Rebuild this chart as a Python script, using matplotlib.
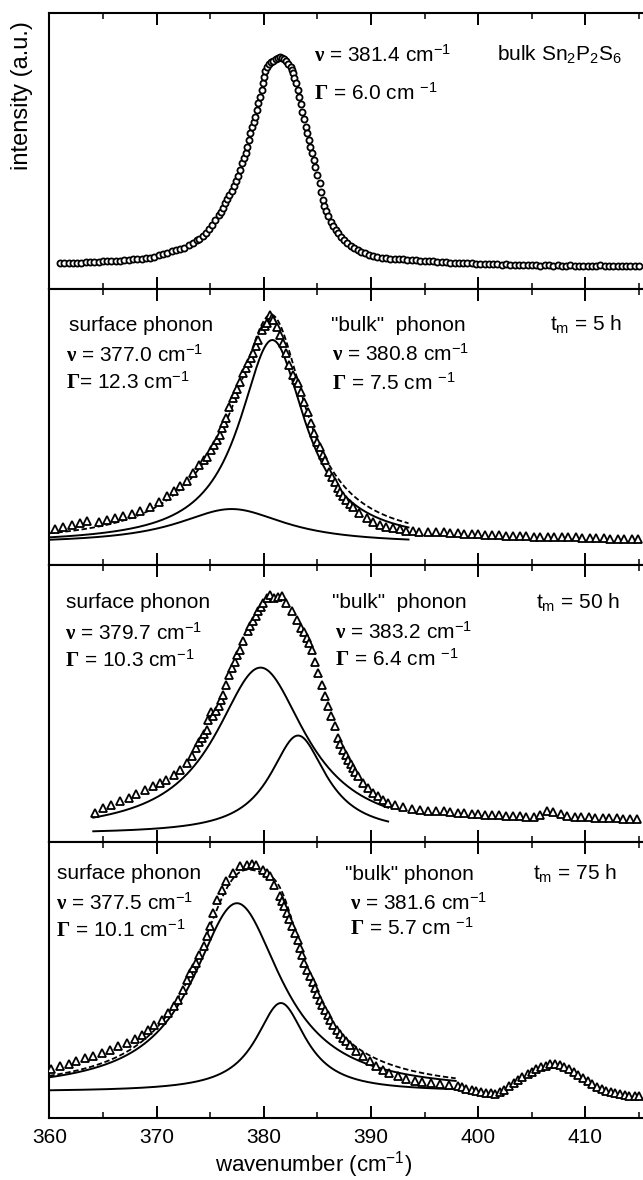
import numpy as np
import matplotlib
matplotlib.use("Agg")
import matplotlib.pyplot as plt
from matplotlib.ticker import MultipleLocator

plt.rcParams['font.family'] = ['Liberation Sans', 'DejaVu Sans']
plt.rcParams['mathtext.fontset'] = 'custom'
plt.rcParams['mathtext.rm'] = 'Liberation Sans'
plt.rcParams['mathtext.it'] = 'Liberation Sans:italic'
plt.rcParams['mathtext.bf'] = 'Liberation Serif:bold'

# bulk crystal spectrum (normalised intensity)
bulk_x = [361.0, 361.4, 361.8, 362.2, 362.6, 363.0, 363.4, 363.8, 364.2, 364.6, 365.0, 365.4,
          365.8, 366.2, 366.6, 367.0, 367.4, 367.8, 368.2, 368.6, 369.0, 369.4, 369.8, 370.2,
          370.6, 371.0, 371.4, 371.8, 372.2, 372.6, 373.0, 373.4, 373.8,
          374.0, 374.3, 374.6, 374.9, 375.2, 375.5, 375.8, 376.0, 376.2, 376.4, 376.6, 376.8,
          377.0, 377.2, 377.4, 377.6, 377.8, 378.0, 378.15, 378.3, 378.45, 378.6, 378.75, 378.9,
          379.05, 379.2, 379.35, 379.5, 379.65, 379.8, 379.9, 380.0, 380.15, 380.3, 380.5, 380.7,
          380.9, 381.1, 381.3, 381.5, 381.7, 381.9, 382.1, 382.3, 382.5, 382.6, 382.7, 382.85,
          383.0, 383.15, 383.3, 383.45, 383.6, 383.75, 383.9, 384.05, 384.2, 384.35, 384.5, 384.65,
          384.8, 385.0, 385.2, 385.35, 385.5, 385.65, 385.8, 386.0, 386.3, 386.5, 386.7, 386.95,
          387.2, 387.5, 387.8, 388.1, 388.4, 388.75, 389.1, 389.45, 389.8, 390.2, 390.6, 391.0,
          391.4, 391.8, 392.2, 392.6, 393.0, 393.4, 393.8, 394.2, 394.6, 395.0, 395.4, 395.8,
          396.2, 396.6, 397.0, 397.4, 397.8, 398.2, 398.6, 399.0, 399.4, 399.8, 400.2, 400.6,
          401.0, 401.4, 401.8, 402.2, 402.6, 403.0, 403.4, 403.8, 404.2, 404.6, 405.0, 405.4,
          405.8, 406.2, 406.6, 407.0, 407.4, 407.8, 408.2, 408.6, 409.0, 409.4, 409.8, 410.2,
          410.6, 411.0, 411.4, 411.8, 412.2, 412.6, 413.0, 413.4, 413.8, 414.2, 414.6, 415.0]
bulk_y = [.094, .095, .096, .096, .097, .097, .098, .099, .099, .100, .101, .101,
          .102, .103, .104, .105, .106, .108, .110, .111, .112, .115, .118, .123,
          .127, .130, .137, .143, .146, .150, .160, .168, .177,
          .183, .192, .204, .218, .233, .250, .268, .280, .296, .311, .326, .340,
          .356, .374, .393, .410, .432, .456, .474, .493, .517, .541, .565, .589,
          .607, .625, .650, .674, .698, .722, .746, .770, .790, .807, .815, .822,
          .828, .833, .837, .840, .839, .834, .827, .818, .807, .795, .783, .765,
          .746, .722, .698, .671, .644, .616, .589, .565, .541, .517, .493, .468,
          .444, .414, .384, .354, .324, .302, .282, .265, .245, .230, .215, .203,
          .191, .178, .167, .157, .148, .142, .136, .130, .124, .121, .118, .115,
          .113, .111, .110, .109, .108, .107, .106, .105, .104, .103, .102, .101,
          .100, .099, .098, .097, .097, .096, .095, .095, .094, .093, .092, .092,
          .091, .092, .090, .089, .090, .088, .089, .088, .087, .089, .088, .087,
          .086, .087, .088, .086, .087, .085, .086, .087, .086, .085, .086, .085,
          .084, .086, .087, .085, .084, .085, .086, .084, .085, .084, .085, .084]

# spectra after tm = 5 h, 50 h, 75 h
t5_x = [360.5, 361.3, 362.1, 362.9, 363.5, 364.6, 365.4, 366.1, 366.9, 367.7, 368.5, 369.4,
        370.2, 371.0, 371.6, 372.2, 372.8, 373.4, 374.0, 374.4, 374.7, 375.1, 375.4, 375.6,
        375.9, 376.1, 376.3, 376.5, 376.8, 377.1, 377.3, 377.5, 377.8, 378.1, 378.3, 378.5,
        378.8, 379.0, 379.3, 379.5, 379.8, 380.1, 380.3, 380.6, 380.8, 380.9, 381.2, 381.5,
        381.8, 382.1, 382.4, 382.7, 383.0, 383.2, 383.5, 383.8, 384.1, 384.4, 384.7, 385.0,
        385.2, 385.5, 385.7, 386.1, 386.4, 386.6, 386.9, 387.1, 387.4, 387.7, 388.0, 388.3,
        388.9, 389.6, 390.2, 390.8, 391.4, 392.1, 392.7, 393.3, 393.9, 394.5, 395.3, 396.1,
        396.8, 397.4, 398.1, 398.7, 399.4, 400.0, 400.6, 401.3, 401.9, 402.6, 403.2, 403.9,
        404.5, 405.2, 405.8, 406.5, 407.1, 407.8, 408.4, 409.1, 409.7, 410.4, 411.0, 411.7,
        412.3, 413.0, 413.6, 414.3, 414.9]
t5_y = [.129, .137, .145, .153, .160, .157, .163, .169, .178, .186, .196, .211,
        .227, .252, .270, .288, .306, .335, .363, .380, .393, .417, .436, .454,
        .472, .496, .514, .532, .574, .604, .622, .640, .665, .695, .713, .731,
        .752, .768, .795, .816, .852, .868, .877, .907, .895, .890, .865, .834,
        .804, .768, .726, .689, .672, .659, .629, .593, .556, .514, .477, .445,
        .429, .400, .381, .338, .318, .302, .280, .266, .250, .236, .223, .211,
        .187, .169, .157, .145, .139, .133, .129, .124, .124, .121, .121, .118,
        .118, .116, .115, .114, .113, .112, .110, .109, .109, .107, .106, .106,
        .104, .103, .103, .102, .101, .101, .100, .100, .099, .098, .097, .097,
        .096, .095, .096, .095, .094]

t50_x = [364.3, 365.0, 365.8, 366.6, 367.4, 368.1, 368.9, 369.7, 370.3, 370.9, 371.6, 372.2,
         372.8, 373.3, 373.7, 374.0, 374.2, 374.45, 374.7, 374.8, 375.05, 375.3, 375.55, 375.8,
         376.0, 376.2, 376.5, 376.8, 377.05, 377.3, 377.55, 377.8, 378.1, 378.5, 378.75, 379.0,
         379.25, 379.5, 379.7, 379.9, 380.3, 380.6, 381.0, 381.3, 381.7, 382.1, 382.6, 383.1,
         383.5, 383.75, 384.0, 384.25, 384.5, 384.8, 385.1, 385.4, 385.7, 386.0, 386.3, 386.6,
         386.9, 387.15, 387.4, 387.65, 387.9, 388.1, 388.3, 388.55, 388.8, 389.3, 389.7, 390.2,
         390.7, 391.1, 391.6, 392.2, 393.0, 393.8, 394.6, 395.3, 396.1, 396.8, 397.4, 398.1,
         398.7, 399.4, 400.0, 400.6, 401.3, 401.9, 402.6, 403.2, 403.9, 404.5, 405.2, 405.8,
         406.4, 407.0, 407.7, 408.3, 409.0, 409.6, 410.3, 410.9, 411.6, 412.2, 412.9, 413.5,
         414.2, 414.8]
t50_y = [.106, .124, .136, .148, .160, .174, .190, .202, .214, .226, .244, .262,
         .286, .310, .340, .360, .376, .392, .406, .442, .470, .454, .474, .490,
         .512, .532, .568, .604, .628, .652, .675, .695, .725, .761, .780, .797,
         .815, .833, .850, .863, .880, .893, .881, .884, .887, .863, .833, .803,
         .773, .757, .737, .718, .695, .652, .610, .568, .526, .490, .454, .418,
         .376, .355, .334, .316, .298, .283, .268, .252, .238, .214, .196, .178,
         .166, .154, .142, .133, .126, .120, .116, .112, .114, .112, .108, .106,
         .105, .103, .101, .100, .098, .097, .096, .095, .094, .093, .093, .100,
         .114, .109, .102, .096, .092, .091, .090, .089, .088, .087, .086, .085,
         .085, .084]

t75_x = [360.2, 361.0, 361.8, 362.5, 363.3, 364.1, 364.9, 365.7, 366.4, 367.2, 368.0, 368.6,
         369.2, 369.8, 370.5, 371.1, 371.6, 372.0, 372.5, 372.8, 373.1, 373.4, 373.7, 374.0,
         374.4, 374.7, 375.0, 375.3, 375.6, 376.1, 376.5, 377.1, 377.8, 378.4, 378.9, 379.3,
         379.9, 380.3, 380.6, 381.0, 381.5, 381.7, 381.9, 382.15, 382.4, 382.65, 382.9, 383.15,
         383.4, 383.6, 383.8, 384.05, 384.3, 384.55, 384.8, 385.0, 385.2, 385.45, 385.7, 385.95,
         386.2, 386.5, 386.8, 387.1, 387.4, 387.7, 388.0, 388.6, 389.3, 389.9, 390.5, 391.1,
         391.7, 392.5, 393.3, 394.1, 394.8, 395.6, 396.4, 397.3, 398.1, 398.5, 398.9, 399.4,
         399.8, 400.3, 400.7, 401.2, 401.6, 402.0, 402.4, 402.9, 403.3, 403.7, 404.1, 404.6,
         405.0, 405.4, 405.9, 406.3, 406.7, 407.2, 407.6, 408.0, 408.5, 408.9, 409.3, 409.8,
         410.2, 410.6, 411.1, 411.5, 411.9, 412.4, 412.8, 413.2, 413.7, 414.1, 414.6, 415.0]
t75_y = [.178, .188, .197, .205, .217, .226, .235, .248, .260, .272, .287, .302,
         .320, .338, .357, .381, .405, .429, .466, .502, .526, .544, .563, .593,
         .623, .659, .696, .744, .792, .828, .858, .889, .913, .919, .922, .919,
         .901, .889, .877, .846, .804, .786, .768, .744, .720, .696, .671, .644,
         .617, .590, .563, .538, .514, .493, .472, .450, .429, .411, .393, .375,
         .357, .338, .320, .305, .290, .278, .266, .242, .224, .205, .188, .175,
         .163, .151, .141, .135, .129, .127, .123, .121, .117, .112, .106, .101,
         .098, .095, .092, .089, .088, .093, .102, .115, .128, .138, .148, .158,
         .168, .177, .184, .190, .195, .196, .192, .186, .177, .166, .156, .144,
         .133, .124, .114, .106, .099, .094, .090, .087, .084, .081, .079, .078]

# Lorentzian fit parameters: (surface, "bulk") per annealed spectrum
fit_nu = [(377.0, 380.8), (379.7, 383.2), (377.5, 381.6)]
fit_gamma = [(12.3, 7.5), (10.3, 6.4), (10.1, 5.7)]
fit_amp = [(0.126, 0.739), (0.600, 0.355), (0.684, 0.322)]
fit_base = [0.077, 0.030, 0.095]
fit_range = [(360.0, 393.5), (364.1, 391.6), (360.0, 397.9)]
fit_sum_shown = [True, False, True]
anneal_hours = [5, 50, 75]
bulk_nu, bulk_gamma = 381.4, 6.0


def lorentz(x, nu, gamma, amp, base):
    return base + amp / (1.0 + ((x - nu) / (gamma / 2.0)) ** 2)


def nu_label(nu, gap=''):
    return r'$\mathbf{\nu}$ = %.1f cm%s$^{-1}$' % (nu, gap)


def gamma_label(g, eq=' =', gap=''):
    return r'$\mathbf{\Gamma}$%s %.1f cm%s$^{-1}$' % (eq, g, gap)


W, H = 643, 1180
fig = plt.figure(figsize=(W / 100, H / 100), dpi=100)
edges = [13.3, 289.3, 565.0, 842.3, 1118.0]
left = 49.3 / W
axes = []
for i in range(4):
    ax = fig.add_axes([left, 1 - edges[i + 1] / H, 1 - left, (edges[i + 1] - edges[i]) / H])
    ax.set_xlim(360, 415.37)
    ax.set_ylim(0, 1)
    ax.spines['right'].set_visible(False)
    for s in ['left', 'top', 'bottom']:
        ax.spines[s].set_linewidth(1.5)
    ax.xaxis.set_major_locator(MultipleLocator(10))
    ax.xaxis.set_minor_locator(MultipleLocator(5))
    ax.tick_params(which='both', direction='in', top=True, bottom=True, left=False,
                   labelleft=False, labelbottom=(i == 3), labelsize=15, pad=7)
    ax.tick_params(which='major', length=8.4, width=1.4)
    ax.tick_params(which='minor', length=4.0, width=1.1)
    ax.set_yticks([])
    axes.append(ax)

fs = 15

# top panel: bulk crystal
ax = axes[0]
ax.plot(bulk_x, bulk_y, 'o', ms=4.4, mfc='white', mec='black', mew=1.3)
ax.text(384.7, 0.849, nu_label(bulk_nu), fontsize=fs, va='center')
ax.text(384.7, 0.710, gamma_label(bulk_gamma, gap=' '), fontsize=fs, va='center')
ax.text(401.8, 0.849, r'bulk Sn$_2$P$_2$S$_6$', fontsize=fs, va='center')

data_x = [t5_x, t50_x, t75_x]
data_y = [t5_y, t50_y, t75_y]
text_pos = [
    # surface block, bulk block, tm label
    ((361.8, 361.6, 0.870, 0.762, 0.665), (386.25, 386.4, 0.870, 0.765, 0.659), (406.7, 0.870)),
    ((361.6, 361.5, 0.863, 0.755, 0.659), (386.4, 386.6, 0.864, 0.760, 0.663), (405.4, 0.864)),
    ((360.7, 360.6, 0.886, 0.780, 0.681), (387.6, 388.0, 0.884, 0.781, 0.688), (405.1, 0.884)),
]
bulk_titles = ['"bulk"  phonon', '"bulk"  phonon', '"bulk" phonon']
surf_eq = ['=', ' =', ' =']

for k in range(3):
    ax = axes[k + 1]
    ax.plot(data_x[k], data_y[k], '^', ms=6.0, mfc='white', mec='black', mew=1.3, zorder=3)
    x0, x1 = fit_range[k]
    xf = np.linspace(x0, x1, 400)
    comps = [lorentz(xf, fit_nu[k][j], fit_gamma[k][j], fit_amp[k][j], fit_base[k])
             for j in range(2)]
    for c in comps:
        ax.plot(xf, c, '-', color='black', lw=1.4, zorder=2)
    if fit_sum_shown[k]:
        total = comps[0] + comps[1] - fit_base[k]
        ax.plot(xf, total, '--', color='black', lw=1.3, dashes=(3, 1.5), zorder=2)

    (sx, sx2, sy1, sy2, sy3), (bx, bx2, by1, by2, by3), (tx, ty) = text_pos[k]
    ax.text(sx, sy1, 'surface phonon', fontsize=fs, va='center')
    ax.text(sx2, sy2, nu_label(fit_nu[k][0]), fontsize=fs, va='center')
    ax.text(sx2, sy3, gamma_label(fit_gamma[k][0], eq=surf_eq[k]), fontsize=fs, va='center')
    ax.text(bx, by1, bulk_titles[k], fontsize=fs, va='center')
    ax.text(bx2, by2, nu_label(fit_nu[k][1]), fontsize=fs, va='center')
    ax.text(bx2, by3, gamma_label(fit_gamma[k][1], gap=' '), fontsize=fs, va='center')
    ax.text(tx, ty, r't$_\mathrm{m}$ = %d h' % anneal_hours[k], fontsize=fs, va='center')

fig.text(22.5 / W, 1 - 96 / H, 'intensity (a.u.)', rotation=90, fontsize=17,
         ha='center', va='center')
fig.text(314 / W, 1 - 1165 / H, r'wavenumber (cm$^{-1}$)', fontsize=16,
         ha='center', va='center')

fig.savefig('out.png', dpi=100)
